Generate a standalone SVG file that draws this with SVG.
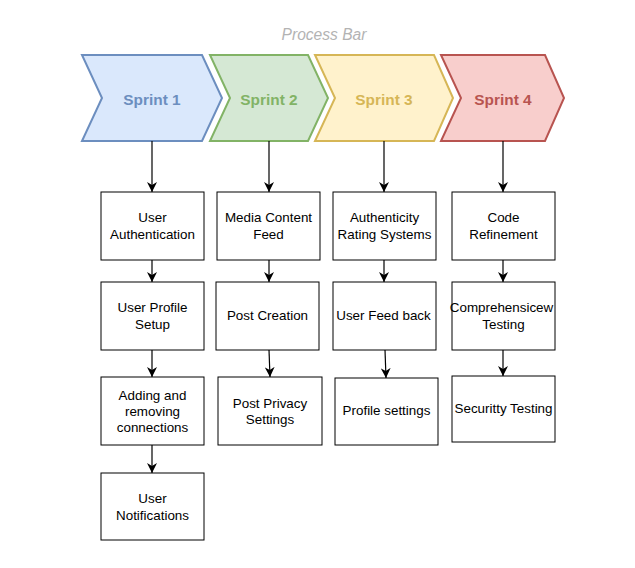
<svg xmlns="http://www.w3.org/2000/svg" width="635" height="568" viewBox="0 0 635 568">
<style>
.bg{fill:#ffffff}
.chev{stroke-width:2}
.ctext{font-family:"Liberation Sans",Arial,sans-serif;font-size:15.4px;font-weight:bold;text-anchor:middle}
.box{fill:#ffffff;stroke:#000000;stroke-width:1}
.btext{font-family:"Liberation Sans",Arial,sans-serif;font-size:13.4px;fill:#000000;text-anchor:middle}
.edge{stroke:#000000;stroke-width:1.2;fill:none}
.title{font-family:"Liberation Sans",Arial,sans-serif;font-size:15.6px;font-style:italic;fill:#b3b3b3;text-anchor:middle}
</style>
<defs>
<marker id="arr" viewBox="0 0 10 10" refX="10" refY="5" markerWidth="10" markerHeight="10" markerUnits="userSpaceOnUse" orient="auto">
<path d="M0,0 L10,5 L0,10 L3,5 Z" fill="#000000"/>
</marker>
</defs>
<rect class="bg" x="0" y="0" width="635" height="568"/>
<text class="title" x="324" y="40">Process Bar</text>

<g id="sprint1">
<polygon class="chev" points="82,55 202,55 222,98 202,141 82,141 102,98" fill="#dae8fc" stroke="#6c8ebf"/>
<text class="ctext" x="152" y="105" fill="#6c8ebf">Sprint 1</text>
</g>
<g id="sprint2">
<polygon class="chev" points="210,55 308,55 328,98 308,141 210,141 230,98" fill="#d5e8d4" stroke="#82b366"/>
<text class="ctext" x="269" y="105" fill="#82b366">Sprint 2</text>
</g>
<g id="sprint3">
<polygon class="chev" points="315,55 434,55 453,98 434,141 315,141 335,98" fill="#fff2cc" stroke="#d6b656"/>
<text class="ctext" x="384" y="105" fill="#d6b656">Sprint 3</text>
</g>
<g id="sprint4">
<polygon class="chev" points="441,55 545,55 564,98 545,141 441,141 461,98" fill="#f8cecc" stroke="#b85450"/>
<text class="ctext" x="503" y="105" fill="#b85450">Sprint 4</text>
</g>

<g id="connectors">
<line class="edge" x1="152" y1="141" x2="152" y2="192" marker-end="url(#arr)"/>
<line class="edge" x1="269" y1="141" x2="269" y2="192" marker-end="url(#arr)"/>
<line class="edge" x1="384" y1="141" x2="384" y2="192" marker-end="url(#arr)"/>
<line class="edge" x1="503" y1="141" x2="503" y2="192" marker-end="url(#arr)"/>

<line class="edge" x1="152" y1="260" x2="152" y2="282" marker-end="url(#arr)"/>
<line class="edge" x1="152" y1="350" x2="152" y2="377" marker-end="url(#arr)"/>
<line class="edge" x1="152" y1="445" x2="152" y2="473" marker-end="url(#arr)"/>

<line class="edge" x1="269" y1="260" x2="269" y2="282" marker-end="url(#arr)"/>
<line class="edge" x1="269" y1="350" x2="270" y2="377" marker-end="url(#arr)"/>

<line class="edge" x1="384" y1="260" x2="384" y2="282" marker-end="url(#arr)"/>
<line class="edge" x1="385" y1="350" x2="386" y2="378" marker-end="url(#arr)"/>

<line class="edge" x1="503" y1="260" x2="503" y2="282" marker-end="url(#arr)"/>
<line class="edge" x1="503" y1="350" x2="503" y2="376" marker-end="url(#arr)"/>
</g>

<g id="n-user-auth">
<rect class="box" x="101" y="192" width="103" height="68"/>
<text class="btext" x="152.5" y="222">User</text>
<text class="btext" x="152.5" y="239">Authentication</text>
</g>
<g id="n-user-profile">
<rect class="box" x="101" y="282" width="103" height="68"/>
<text class="btext" x="152.5" y="312">User Profile</text>
<text class="btext" x="152.5" y="329">Setup</text>
</g>
<g id="n-adding">
<rect class="box" x="101" y="377" width="103" height="68"/>
<text class="btext" x="152.5" y="400">Adding and</text>
<text class="btext" x="152.5" y="416">removing</text>
<text class="btext" x="152.5" y="432">connections</text>
</g>
<g id="n-notifications">
<rect class="box" x="101" y="473" width="103" height="67"/>
<text class="btext" x="152.5" y="503">User</text>
<text class="btext" x="152.5" y="520">Notifications</text>
</g>

<g id="n-media">
<rect class="box" x="217" y="192" width="103" height="68"/>
<text class="btext" x="268.5" y="222">Media Content</text>
<text class="btext" x="268.5" y="239">Feed</text>
</g>
<g id="n-post-creation">
<rect class="box" x="216" y="282" width="103" height="68"/>
<text class="btext" x="267.5" y="320">Post Creation</text>
</g>
<g id="n-post-privacy">
<rect class="box" x="218" y="377" width="104" height="68"/>
<text class="btext" x="270" y="408">Post Privacy</text>
<text class="btext" x="270" y="424">Settings</text>
</g>

<g id="n-authenticity">
<rect class="box" x="333" y="192" width="103" height="68"/>
<text class="btext" x="384.5" y="222">Authenticity</text>
<text class="btext" x="384.5" y="239">Rating Systems</text>
</g>
<g id="n-feedback">
<rect class="box" x="333" y="282" width="103" height="68"/>
<text class="btext" x="383.5" y="320">User Feed back</text>
</g>
<g id="n-profile-settings">
<rect class="box" x="335" y="378" width="103" height="67"/>
<text class="btext" x="386.5" y="415">Profile settings</text>
</g>

<g id="n-code">
<rect class="box" x="452" y="192" width="103" height="68"/>
<text class="btext" x="503.5" y="222">Code</text>
<text class="btext" x="503.5" y="239">Refinement</text>
</g>
<g id="n-comprehensive">
<rect class="box" x="452" y="282" width="103" height="68"/>
<text class="btext" x="501.5" y="312">Comprehensicew</text>
<text class="btext" x="503.5" y="329">Testing</text>
</g>
<g id="n-security">
<rect class="box" x="452" y="376" width="103" height="66"/>
<text class="btext" x="503.5" y="413">Securitty Testing</text>
</g>
</svg>
